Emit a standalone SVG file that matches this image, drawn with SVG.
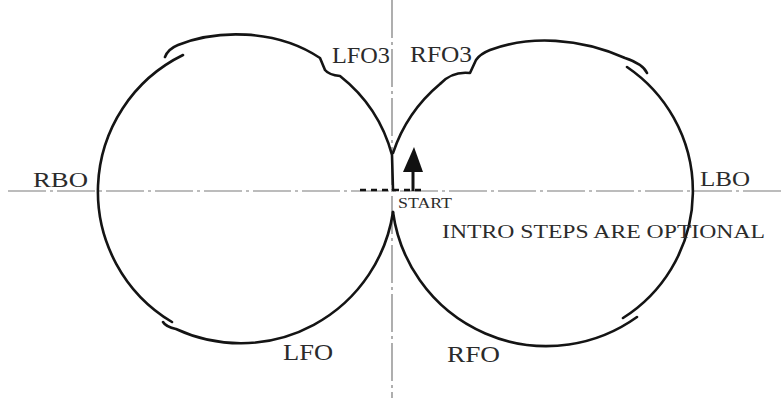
<svg xmlns="http://www.w3.org/2000/svg" width="784" height="398" viewBox="0 0 784 398">
<style>
.axis{stroke:#7a7a7a;stroke-width:1.2;fill:none;stroke-dasharray:38 4 3 4}
.curve{stroke:#141414;stroke-width:2.6;fill:none;stroke-linecap:round;stroke-linejoin:round}
.lbl{font-family:"Liberation Serif","Times New Roman",serif;fill:#2b2b2b}
</style>
<rect width="784" height="398" fill="#ffffff"/>
<g id="axes">
<line class="axis" x1="8" y1="191" x2="784" y2="191"/>
<line class="axis" x1="392" y1="0" x2="392" y2="398"/>
</g>
<g id="left-circle">
<path class="curve" d="M165,57 Q168,49 178,45 C215,30 275,28 320,58 L325,70 Q329,75 340,76 A150 150 0 0 1 392,155 L393,190"/>
<path class="curve" d="M183,55 A152 152 0 0 0 172,322"/>
<path class="curve" d="M163,322 Q166,327 176,329 A154 154 0 0 0 393,212"/>
</g>
<g id="right-circle">
<path class="curve" d="M393,212 A155 155 0 0 0 637,317"/>
<path class="curve" d="M393,153 A153 153 0 0 1 440,84 Q452,71 470,73 L476,60 Q480,54 490,50 C530,35 580,38 625,58 C637,62 644,66 647,73"/>
<path class="curve" d="M627,67 A150 150 0 0 1 623,318"/>
</g>
<g id="start">
<line x1="360" y1="190" x2="423" y2="190" stroke="#111" stroke-width="2.6" stroke-dasharray="6 5"/>
<line x1="413" y1="191" x2="413" y2="168" stroke="#111" stroke-width="3"/>
<polygon points="403,172 423,172 414,147" fill="#111"/>
<text class="lbl" x="398" y="208" font-size="15" textLength="54" lengthAdjust="spacingAndGlyphs">START</text>
</g>
<g id="labels">
<text class="lbl" x="332" y="63" font-size="24" textLength="58" lengthAdjust="spacingAndGlyphs">LFO3</text>
<text class="lbl" x="410" y="62" font-size="24" textLength="62" lengthAdjust="spacingAndGlyphs">RFO3</text>
<text class="lbl" x="33" y="187" font-size="22" textLength="55" lengthAdjust="spacingAndGlyphs">RBO</text>
<text class="lbl" x="700" y="186" font-size="21" textLength="50" lengthAdjust="spacingAndGlyphs">LBO</text>
<text class="lbl" x="283" y="360" font-size="23" textLength="50" lengthAdjust="spacingAndGlyphs">LFO</text>
<text class="lbl" x="447" y="362" font-size="23" textLength="53" lengthAdjust="spacingAndGlyphs">RFO</text>
<text class="lbl" x="442" y="238" font-size="19" textLength="323" lengthAdjust="spacingAndGlyphs">INTRO STEPS ARE OPTIONAL</text>
</g>
</svg>
